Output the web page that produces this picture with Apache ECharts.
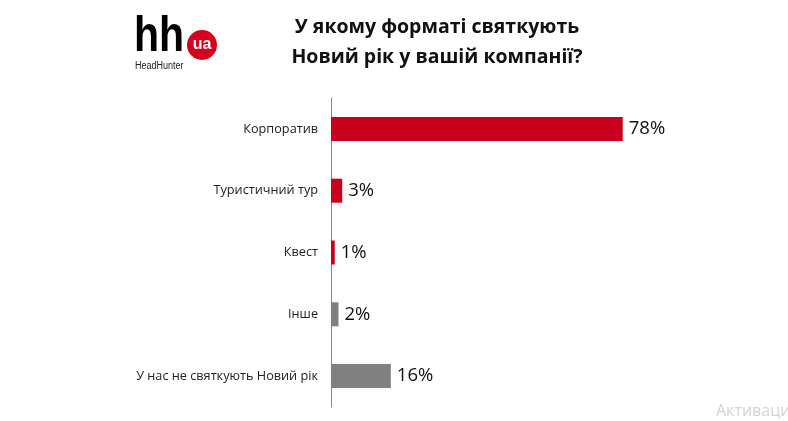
<!DOCTYPE html>
<html>
<head>
<meta charset="utf-8">
<script src="https://cdn.jsdelivr.net/npm/echarts@6/dist/echarts.min.js"></script>
<style>
  html, body { margin: 0; padding: 0; background: #fff; }
  #chart { width: 788px; height: 421px; }
</style>
</head>
<body>
<div id="chart"></div>
<script>
// категорії зверху вниз
const categories = ["Корпоратив", "Туристичний тур", "Квест", "Інше", "У нас не святкують Новий рік"];
const values = [78, 3, 1, 2, 16];
const barColors = ["#c8001e", "#c8001e", "#c8001e", "#808080", "#808080"];

const chart = echarts.init(document.getElementById("chart"));
const option = {
  backgroundColor: "#fff",
  animation: false,
  title: {
    text: "У якому форматі святкують\nНовий рік у вашій компанії?",
    left: 432,
    top: 7,
    textAlign: "center",
    textStyle: {
      fontFamily: "Open Sans",
      fontSize: 19.5,
      fontWeight: "bold",
      color: "#111",
      lineHeight: 30,
    },
  },
  grid: { left: 331, top: 98, width: 374, height: 309 },
  xAxis: { type: "value", min: 0, max: 100, show: false },
  yAxis: {
    type: "category",
    data: categories,
    inverse: true,
    axisLine: { show: true, lineStyle: { color: "#888", width: 1 } },
    axisTick: { show: false },
    axisLabel: { margin: 13, fontFamily: "Open Sans", fontSize: 12.7, color: "#222" },
  },
  series: [
    {
      type: "bar",
      barWidth: 24,
      data: values.map((v, i) => ({ value: v, itemStyle: { color: barColors[i] } })),
      label: {
        show: true,
        position: "right",
        distance: 6,
        formatter: "{c}%",
        fontFamily: "Open Sans",
        fontSize: 18.5,
        color: "#111",
      },
    },
  ],
  graphic: [
    // логотип hh.ua
    { type: "text", x: 134, y: 12, scaleX: 0.82, style: { text: "hh", font: "bold 50px Liberation Sans", fill: "#000" } },
    { type: "circle", shape: { cx: 202, cy: 45, r: 15 }, style: { fill: "#d6001c" } },
    { type: "text", x: 202, y: 45, style: { text: "ua", font: "bold 16px Liberation Sans", fill: "#fff", align: "center", verticalAlign: "middle" } },
    { type: "text", x: 135, y: 61, scaleX: 0.9, style: { text: "HeadHunter", font: "10px Liberation Sans", fill: "#222" } },
    // водяний знак
    { type: "text", left: 716, top: 403, style: { text: "Активация", font: "16px Open Sans", fill: "#d4d4d4" } },
  ],
};
chart.setOption(option);
</script>
</body>
</html>
